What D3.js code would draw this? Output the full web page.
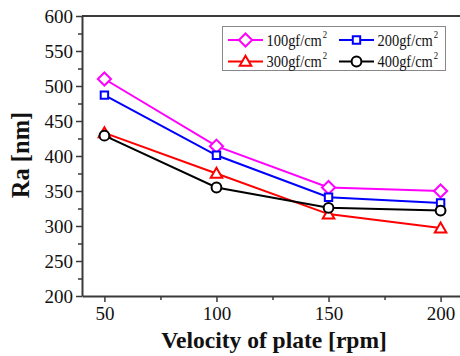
<!DOCTYPE html>
<html>
<head>
<meta charset="utf-8">
<script src="https://cdn.jsdelivr.net/npm/d3@7"></script>
<style>
  body { margin: 0; background: #fff; }
  svg { display: block; }
</style>
</head>
<body>
<div id="chart"></div>
<script>
// velocities (rpm) on the x axis
var velocity = [50, 100, 150, 200];

// Ra values (nm) per pressure
var ra100 = [510, 414, 355, 350];
var ra200 = [487, 401, 341, 333];
var ra300 = [433, 375, 317, 297];
var ra400 = [429, 355, 326, 322];

var seriesNames = ["100gf/cm", "200gf/cm", "300gf/cm", "400gf/cm"];
var seriesColors = ["#ff00ff", "#0000ff", "#ff0000", "#000000"];
var seriesSymbols = ["diamond", "square", "triangle", "circle"];

var xTicks = [50, 100, 150, 200];
var xMinor = [75, 125, 175];
var yTicks = [200, 250, 300, 350, 400, 450, 500, 550, 600];
var yMinor = [225, 275, 325, 375, 425, 475, 525, 575];

var width = 460, height = 356;
var margin = {top: 16, right: -3, bottom: 60, left: 82};
var serif = "'Liberation Serif', 'Times New Roman', serif";

var svg = d3.select("#chart").append("svg")
    .attr("width", width)
    .attr("height", height);

var x = d3.scaleLinear()
    .domain([40, 210])
    .range([margin.left, width - margin.right]);

var y = d3.scaleLinear()
    .domain([200, 600])
    .range([height - margin.bottom, margin.top]);

var axisColor = "#3a3a3a";

// top frame line
svg.append("line")
    .attr("x1", x(40)).attr("x2", x(210))
    .attr("y1", y(600)).attr("y2", y(600))
    .attr("stroke", axisColor).attr("stroke-width", 2);

// minor ticks
svg.append("g")
    .attr("transform", `translate(0,${y(200)})`)
    .call(d3.axisBottom(x).tickValues(xMinor).tickSize(4).tickSizeOuter(0).tickFormat(""))
    .call(g => g.select(".domain").remove())
    .call(g => g.selectAll("line").attr("stroke", axisColor).attr("stroke-width", 1.5));

svg.append("g")
    .attr("transform", `translate(${x(40)},0)`)
    .call(d3.axisLeft(y).tickValues(yMinor).tickSize(4).tickSizeOuter(0).tickFormat(""))
    .call(g => g.select(".domain").remove())
    .call(g => g.selectAll("line").attr("stroke", axisColor).attr("stroke-width", 1.5));

// major axes
var xAxis = g => g
    .attr("transform", `translate(0,${y(200)})`)
    .call(d3.axisBottom(x).tickValues(xTicks).tickSize(6).tickSizeOuter(0).tickPadding(5))
    .call(g => g.select(".domain").attr("stroke", axisColor).attr("stroke-width", 2))
    .call(g => g.selectAll("line").attr("stroke", axisColor).attr("stroke-width", 1.5))
    .call(g => g.selectAll("text")
        .style("font-family", serif)
        .style("font-size", "19px")
        .attr("fill", "#111"));

var yAxis = g => g
    .attr("transform", `translate(${x(40)},0)`)
    .call(d3.axisLeft(y).tickValues(yTicks).tickSize(6).tickSizeOuter(0).tickPadding(3))
    .call(g => g.select(".domain").attr("stroke", axisColor).attr("stroke-width", 2))
    .call(g => g.selectAll("line").attr("stroke", axisColor).attr("stroke-width", 1.5))
    .call(g => g.selectAll("text")
        .style("font-family", serif)
        .style("font-size", "19px")
        .attr("fill", "#111"));

svg.append("g").call(xAxis);
svg.append("g").call(yAxis);

// axis titles
svg.append("text")
    .attr("x", 274)
    .attr("y", 348)
    .attr("text-anchor", "middle")
    .style("font-family", serif)
    .style("font-size", "23.5px")
    .style("font-weight", "bold")
    .attr("fill", "#111")
    .text("Velocity of plate [rpm]");

svg.append("text")
    .attr("transform", `translate(29,155) rotate(-90)`)
    .attr("text-anchor", "middle")
    .style("font-family", serif)
    .style("font-size", "24.5px")
    .style("font-weight", "bold")
    .attr("fill", "#111")
    .text("Ra [nm]");

// series
var allSeries = [ra100, ra200, ra300, ra400];

var symbolType = {
    diamond: d3.symbolDiamond2,
    square: d3.symbolSquare2,
    triangle: d3.symbolTriangle2,
    circle: d3.symbolCircle
};
var symbolSize = {diamond: 110, square: 70, triangle: 95, circle: 75};

function marker(sel, kind, color) {
    sel.attr("d", d3.symbol().type(symbolType[kind]).size(symbolSize[kind])())
        .attr("fill", "white")
        .attr("stroke", color)
        .attr("stroke-width", 2);
}

var line = d3.line()
    .x((d, i) => x(velocity[i]))
    .y(d => y(d));

allSeries.forEach(function(vals, k) {
    var g = svg.append("g");
    g.append("path")
        .attr("d", line(vals))
        .attr("fill", "none")
        .attr("stroke", seriesColors[k])
        .attr("stroke-width", 2);
    g.selectAll("path.pt")
        .data(vals)
        .join("path")
        .attr("class", "pt")
        .attr("transform", (d, i) => `translate(${x(velocity[i])},${y(d) + (seriesSymbols[k] == "triangle" ? 1 : 0)})`)
        .call(marker, seriesSymbols[k], seriesColors[k]);
});

// legend
var legend = svg.append("g");
legend.append("rect")
    .attr("x", 222.5).attr("y", 26.5)
    .attr("width", 223).attr("height", 44)
    .attr("fill", "white")
    .attr("stroke", "#888")
    .attr("stroke-width", 1);

var legendPos = [[228, 40], [339, 40], [228, 61.5], [339, 61.5]];
seriesNames.forEach(function(name, k) {
    var p = legendPos[k];
    var item = legend.append("g").attr("transform", `translate(${p[0]},${p[1]})`);
    item.append("line")
        .attr("x1", 0).attr("x2", 35)
        .attr("stroke", seriesColors[k])
        .attr("stroke-width", 2);
    item.append("path")
        .attr("transform", `translate(17.5,${seriesSymbols[k] == "triangle" ? 1 : 0})`)
        .call(marker, seriesSymbols[k], seriesColors[k]);
    // the reference lettering is a little narrow, so squeeze it sideways
    var t = item.append("text")
        .attr("transform", "translate(38.5,5.5) scale(0.875,1)")
        .style("font-family", serif)
        .style("font-size", "16.5px")
        .attr("fill", "#111");
    t.append("tspan").text(name);
    t.append("tspan").style("font-size", "10px").attr("dx", 1).attr("dy", -8).text("2");
});
</script>
</body>
</html>
